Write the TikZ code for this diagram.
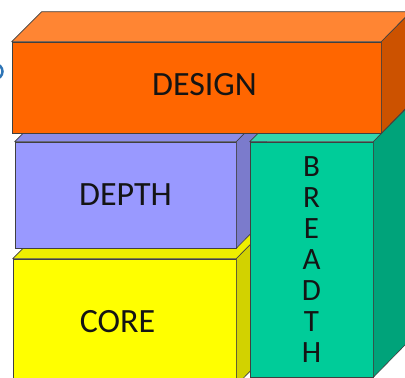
\documentclass[tikz,border=0pt]{standalone}
\usepackage{fontspec}
\setmainfont{Carlito}
\definecolor{designfront}{HTML}{FF6600}
\definecolor{designtop}{HTML}{FF8533}
\definecolor{designside}{HTML}{CC5200}
\definecolor{depthfront}{HTML}{9999FF}
\definecolor{depthtop}{HTML}{8C8CE8}
\definecolor{depthside}{HTML}{7B7BCC}
\definecolor{corefront}{HTML}{FFFF00}
\definecolor{coretop}{HTML}{EEEE00}
\definecolor{coreside}{HTML}{D2D200}
\definecolor{breadthfront}{HTML}{00CC99}
\definecolor{breadthtop}{HTML}{33D6AD}
\definecolor{breadthside}{HTML}{00A37A}
\definecolor{edgeblue}{HTML}{2E75B6}

\begin{document}
\begin{tikzpicture}[x=1pt,y=-1pt,
  face/.style={draw=black!75,line width=0.6pt,inner sep=0pt,text=black!92,font=\fontsize{34}{34}\selectfont},
  edge/.style={draw=black!75,line width=0.6pt,line join=round}]
\useasboundingbox (0,0) rectangle (405,378);
\clip (0,0) rectangle (405,378);
\draw[edgeblue,line width=2.5pt] (-5,71.5) circle (7.5);

% core
\node[face,fill=corefront,minimum width=223pt,minimum height=126pt,
  label={[face,draw=none,xshift=-7pt]center:CORE}] (core) at (124.5,322) {};
\draw[edge,fill=coretop] (core.north west) -- ++(30,-30) -- ++(223,0) -- (core.north east) -- cycle;
\draw[edge,fill=coreside] (core.north east) -- ++(30,-30) -- ++(0,126) -- (core.south east) -- cycle;

% depth
\node[face,fill=depthfront,minimum width=221pt,minimum height=106pt] (depth) at (125.5,195) {DEPTH};
\draw[edge,fill=depthtop] (depth.north west) -- ++(30,-30) -- ++(221,0) -- (depth.north east) -- cycle;
\draw[edge,fill=depthside] (depth.north east) -- ++(30,-30) -- ++(0,106) -- (depth.south east) -- cycle;

% breadth
\node[face,fill=breadthfront,minimum width=123pt,minimum height=235pt,align=center,
  font=\fontsize{31}{31}\selectfont] (breadth) at (311.5,259.5) {B\\R\\E\\A\\D\\T\\H};
\draw[edge,fill=breadthtop] (breadth.north west) -- ++(32,-32) -- ++(123,0) -- (breadth.north east) -- cycle;
\draw[edge,fill=breadthside] (breadth.north east) -- ++(32,-32) -- ++(0,235) -- (breadth.south east) -- cycle;

% design
\node[face,fill=designfront,minimum width=369pt,minimum height=91pt,
  label={[face,draw=none,xshift=8pt,yshift=3pt]center:DESIGN}] (design) at (196.5,87.5) {};
\draw[edge,fill=designtop] (design.north west) -- ++(30,-30) -- ++(369,0) -- (design.north east) -- cycle;
\draw[edge,fill=designside] (design.north east) -- ++(30,-30) -- ++(0,91) -- (design.south east) -- cycle;
\end{tikzpicture}
\end{document}
